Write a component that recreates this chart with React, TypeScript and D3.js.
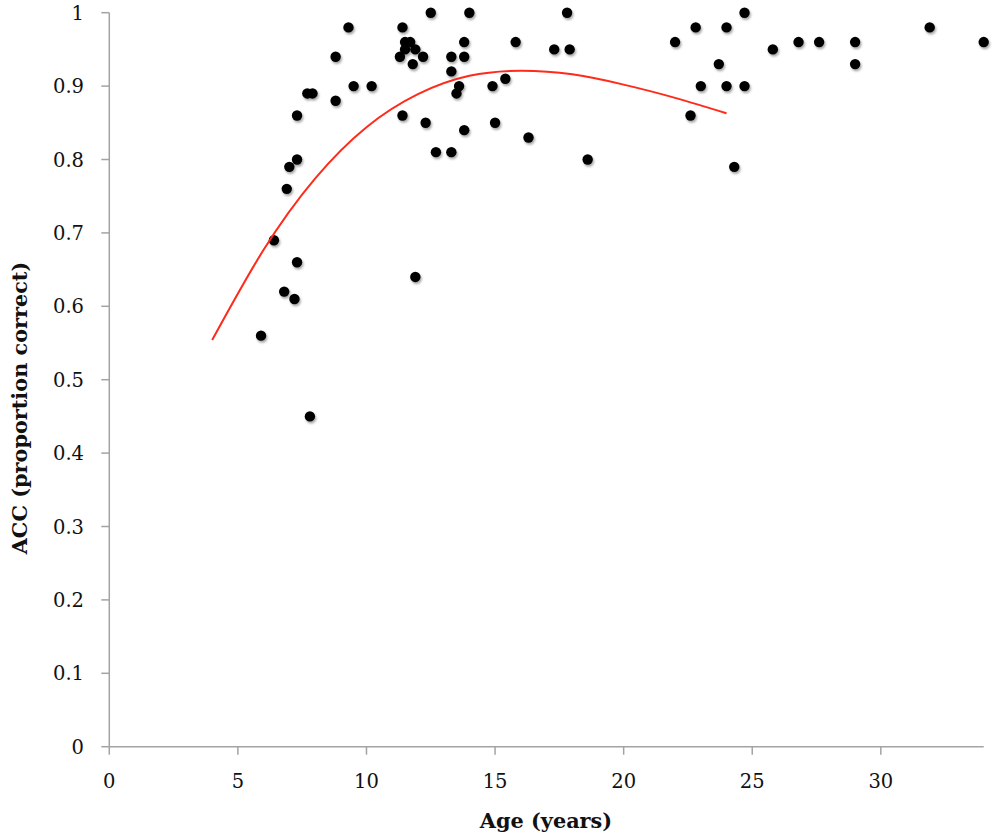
import React from "react";
import * as d3 from "d3";

const ages = [
  5.9, 6.4, 6.8, 6.9, 7.0, 7.2, 7.3, 7.3, 7.3, 7.7, 7.9, 7.8, 8.8, 8.8, 9.3, 9.5, 10.2,
  11.4, 11.3, 11.4, 11.5, 11.7, 11.5, 11.9, 11.8, 12.2, 11.9, 12.3, 12.5, 12.7, 13.3, 13.3,
  13.3, 13.6, 13.5, 13.8, 13.8, 13.8, 14.0, 14.9, 15.0, 15.4, 15.8, 16.3, 17.3, 17.8, 17.9,
  18.6, 22.0, 22.6, 22.8, 23.0, 23.7, 24.0, 24.0, 24.3, 24.7, 24.7, 25.8, 26.8, 27.6, 29.0,
  29.0, 31.9, 34.0,
];
const acc = [
  0.56, 0.69, 0.62, 0.76, 0.79, 0.61, 0.66, 0.8, 0.86, 0.89, 0.89, 0.45, 0.88, 0.94, 0.98, 0.9, 0.9,
  0.86, 0.94, 0.98, 0.96, 0.96, 0.95, 0.95, 0.93, 0.94, 0.64, 0.85, 1.0, 0.81, 0.81, 0.92,
  0.94, 0.9, 0.89, 0.84, 0.94, 0.96, 1.0, 0.9, 0.85, 0.91, 0.96, 0.83, 0.95, 1.0, 0.95,
  0.8, 0.96, 0.86, 0.98, 0.9, 0.93, 0.9, 0.98, 0.79, 1.0, 0.9, 0.95, 0.96, 0.96, 0.96,
  0.93, 0.98, 0.96,
];

const trendAge = [4, 6, 8, 10, 12, 14, 16, 18, 20, 22, 24];
const trendAcc = [0.554, 0.677, 0.774, 0.844, 0.889, 0.914, 0.921, 0.916, 0.902, 0.884, 0.863];

const xTicks = [0, 5, 10, 15, 20, 25, 30];
const yTicks = [0, 0.1, 0.2, 0.3, 0.4, 0.5, 0.6, 0.7, 0.8, 0.9, 1];

const xTitle = "Age (years)";
const yTitle = "ACC (proportion correct)";

export default function App() {
  const W = 1000;
  const H = 839;
  const x = d3.scaleLinear().domain([0, 34]).range([109.3, 983.7]);
  const y = d3.scaleLinear().domain([0, 1]).range([746.7, 12.7]);
  const axisColor = "#a3a3a3";
  const font = "'DejaVu Serif', serif";

  const line = d3
    .line<number>()
    .x((_, i) => x(trendAge[i]))
    .y((_, i) => y(trendAcc[i]))
    .curve(d3.curveNatural);

  const fmt = (v: number) => (v === 0 || v === 1 ? String(v) : v.toFixed(1));

  return (
    <svg
      width={W}
      height={H}
      style={{ position: "absolute", left: 0, top: 0, display: "block", background: "#fff" }}
    >
      <defs>
        <filter id="shadow" x="-50%" y="-50%" width="200%" height="200%">
          <feDropShadow dx="1.2" dy="2" stdDeviation="1.3" floodColor="#000" floodOpacity="0.35" />
        </filter>
      </defs>
      {/* axes */}
      <line x1={x(0)} x2={x(0)} y1={y(0)} y2={y(1)} stroke={axisColor} strokeWidth={1.5} />
      <line x1={x(0)} x2={x(34)} y1={y(0)} y2={y(0)} stroke={axisColor} strokeWidth={1.5} />
      {yTicks.map((t) => (
        <g key={"y" + t}>
          <line x1={x(0) - 8} x2={x(0)} y1={y(t)} y2={y(t)} stroke={axisColor} strokeWidth={1.5} />
          <text
            x={84}
            y={y(t)}
            dy="0.36em"
            textAnchor="end"
            fontFamily={font}
            fontSize={19.5}
            fill="#111"
          >
            {fmt(t)}
          </text>
        </g>
      ))}
      {xTicks.map((t) => (
        <g key={"x" + t}>
          <line x1={x(t)} x2={x(t)} y1={y(0)} y2={y(0) + 8} stroke={axisColor} strokeWidth={1.5} />
          <text
            x={x(t)}
            y={788}
            textAnchor="middle"
            fontFamily={font}
            fontSize={19.5}
            fill="#111"
          >
            {t}
          </text>
        </g>
      ))}
      <text
        x={546}
        y={828}
        textAnchor="middle"
        fontFamily={font}
        fontWeight="bold"
        fontSize={20.8}
        fill="#111"
      >
        {xTitle}
      </text>
      <text
        transform={`translate(27, 408) rotate(-90)`}
        textAnchor="middle"
        fontFamily={font}
        fontWeight="bold"
        fontSize={20.8}
        fill="#111"
      >
        {yTitle}
      </text>
      {/* points */}
      <g filter="url(#shadow)">
        {ages.map((a, i) => (
          <circle key={i} cx={x(a)} cy={y(acc[i])} r={5.2} fill="#000" />
        ))}
      </g>
      {/* trend */}
      <path d={line(trendAge) || ""} fill="none" stroke="#ff2a1a" strokeWidth={2} />
    </svg>
  );
}
